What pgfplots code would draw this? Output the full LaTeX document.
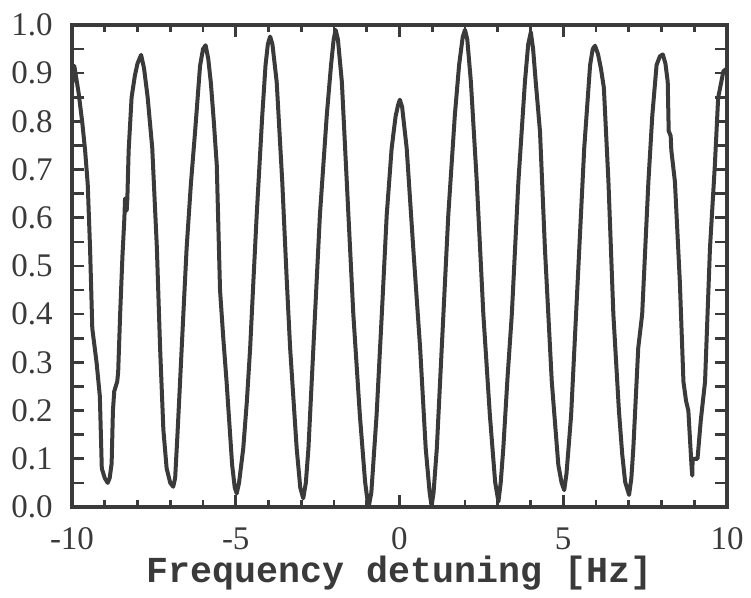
\documentclass[border=0pt]{standalone}
\usepackage{fontspec}
\setmainfont{Liberation Serif}
\newfontfamily\courier{Liberation Mono}
\usepackage{pgfplots}
\pgfplotsset{compat=1.18}
\definecolor{ink}{HTML}{3A3A3A}

\begin{document}
\begin{tikzpicture}
\begin{axis}[
    name=ax,
    scale only axis,
    width=327.5pt, height=241pt,
    xmin=-10, xmax=10,
    ymin=0, ymax=1,
    axis line style={ink, line width=1.8pt},
    tick align=inside,
    tick style={ink, line width=1.3pt},
    major tick length=6pt,
    minor tick length=3.5pt,
    xtick={-10,-5,0,5,10},
    xticklabels={-10,-5,0,5,10},
    minor xtick={-9,-8,-7,-6,-4,-3,-2,-1,1,2,3,4,6,7,8,9},
    ytick={0,0.05,0.1,0.15,0.2,0.25,0.3,0.35,0.4,0.45,0.5,0.55,0.6,0.65,0.7,0.75,0.8,0.85,0.9,0.95,1},
    yticklabels={0.0,,0.1,,0.2,,0.3,,0.4,,0.5,,0.6,,0.7,,0.8,,0.9,,1.0},
    ticklabel style={font=\fontsize{16.5}{16.5}\selectfont, text=ink},
    xticklabel style={anchor=base, inner sep=0pt, yshift=-21.5pt},
    yticklabel style={anchor=east, inner sep=0pt, xshift=-9.5pt},
    xlabel={Frequency detuning [Hz]},
    xlabel style={at={(axis description cs:0.5,0)}, anchor=base, yshift=-38pt,
        font=\courier\bfseries\fontsize{18.3}{20}\selectfont, text=ink},
]
\addplot[ink, line width=2pt, line join=round] coordinates {
(-10.00,0.87) (-9.97,0.91) (-9.93,0.915) (-9.87,0.89) (-9.80,0.86)
(-9.69,0.80) (-9.60,0.74) (-9.52,0.67) (-9.45,0.54) (-9.38,0.37)
(-9.25,0.30) (-9.15,0.23) (-9.09,0.08) (-9.00,0.06) (-8.91,0.05)
(-8.85,0.06) (-8.79,0.09) (-8.75,0.20) (-8.71,0.24) (-8.62,0.26)
(-8.59,0.28) (-8.53,0.40) (-8.46,0.52) (-8.40,0.60) (-8.38,0.64)
(-8.33,0.615) (-8.31,0.64) (-8.27,0.74) (-8.18,0.85) (-8.08,0.895)
(-8.00,0.92) (-7.89,0.938) (-7.80,0.91) (-7.69,0.85) (-7.55,0.745)
(-7.41,0.54) (-7.31,0.33) (-7.21,0.16) (-7.11,0.08) (-7.00,0.05)
(-6.91,0.042) (-6.85,0.06) (-6.78,0.15) (-6.70,0.26) (-6.60,0.40)
(-6.50,0.537) (-6.37,0.67) (-6.24,0.78) (-6.09,0.915) (-6.00,0.95)
(-5.92,0.958) (-5.84,0.93) (-5.76,0.88) (-5.67,0.80) (-5.58,0.71)
(-5.48,0.45) (-5.38,0.35) (-5.28,0.26) (-5.11,0.087) (-5.03,0.04)
(-4.97,0.028) (-4.90,0.05) (-4.77,0.122) (-4.66,0.22) (-4.56,0.33)
(-4.46,0.47) (-4.36,0.606) (-4.19,0.813) (-4.09,0.917) (-4.02,0.96)
(-3.95,0.976) (-3.88,0.96) (-3.75,0.882) (-3.58,0.675) (-3.44,0.467)
(-3.34,0.33) (-3.14,0.122) (-3.03,0.04) (-2.94,0.018) (-2.86,0.05)
(-2.78,0.122) (-2.63,0.33) (-2.43,0.606) (-2.22,0.813) (-2.09,0.917)
(-2.01,0.97) (-1.95,0.99) (-1.88,0.97) (-1.76,0.882) (-1.61,0.675)
(-1.41,0.40) (-1.21,0.19) (-1.05,0.052) (-0.98,0.015) (-0.93,0.004)
(-0.86,0.03) (-0.70,0.19) (-0.54,0.40) (-0.39,0.606) (-0.24,0.744)
(-0.12,0.81) (-0.04,0.835) (0.01,0.845) (0.08,0.83) (0.22,0.744)
(0.42,0.537) (0.63,0.33) (0.80,0.122) (0.92,0.03) (0.98,0.002)
(1.04,0.03) (1.14,0.122) (1.29,0.33) (1.49,0.606) (1.69,0.813)
(1.82,0.917) (1.93,0.975) (2.00,0.99) (2.07,0.97) (2.18,0.882)
(2.36,0.675) (2.56,0.40) (2.76,0.19) (2.92,0.052) (3.02,0.011)
(3.09,0.05) (3.17,0.122) (3.30,0.27) (3.43,0.40) (3.63,0.675)
(3.83,0.882) (3.93,0.96) (4.01,0.985) (4.08,0.95) (4.16,0.882)
(4.29,0.779) (4.44,0.537) (4.65,0.26) (4.85,0.087) (4.95,0.05)
(5.03,0.035) (5.10,0.07) (5.24,0.19) (5.44,0.467) (5.64,0.744)
(5.82,0.917) (5.90,0.95) (5.97,0.957) (6.06,0.94) (6.15,0.91)
(6.24,0.87) (6.38,0.675) (6.53,0.40) (6.70,0.20) (6.80,0.11)
(6.89,0.052) (7.01,0.025) (7.08,0.06) (7.14,0.122) (7.29,0.33)
(7.41,0.40) (7.60,0.675) (7.72,0.813) (7.85,0.917) (7.95,0.935)
(8.04,0.939) (8.12,0.92) (8.19,0.882) (8.22,0.78) (8.28,0.77)
(8.30,0.74) (8.41,0.675) (8.56,0.467) (8.67,0.26) (8.75,0.22)
(8.82,0.20) (8.92,0.081) (8.94,0.065) (8.95,0.10) (9.10,0.10)
(9.20,0.18) (9.33,0.26) (9.48,0.537) (9.63,0.71) (9.73,0.849)
(9.89,0.904) (10.00,0.91)
};
\end{axis}
\path ([xshift=-36pt,yshift=-44pt]ax.south west) rectangle ([xshift=12pt,yshift=12.5pt]ax.north east);
\end{tikzpicture}
\end{document}
